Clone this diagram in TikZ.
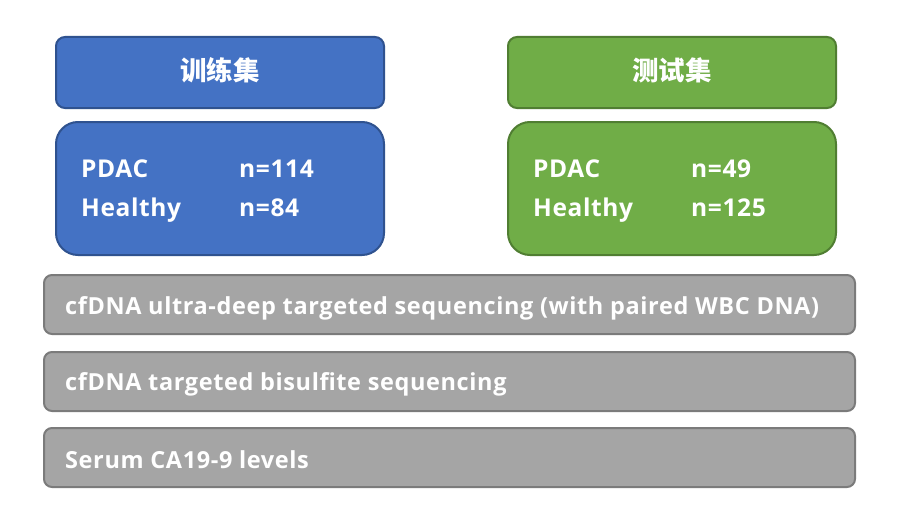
\documentclass[tikz,border=0pt]{standalone}
\usepackage{fontspec}
\setmainfont{Open Sans}[LetterSpace=2.6]
\newfontfamily\cjk{Noto Sans CJK SC}
\definecolor{bluefill}{HTML}{4472C4}
\definecolor{blueline}{HTML}{2F528F}
\definecolor{greenfill}{HTML}{70AD47}
\definecolor{greenline}{HTML}{507E32}
\definecolor{grayfill}{HTML}{A5A5A5}
\definecolor{grayline}{HTML}{7B7B7B}
\tikzset{
  box/.style={draw, line width=2pt, inner sep=0pt, anchor=north west},
  bluebox/.style={box, fill=bluefill, draw=blueline},
  greenbox/.style={box, fill=greenfill, draw=greenline},
  graybox/.style={box, fill=grayfill, draw=grayline, rounded corners=8pt},
  titletxt/.style={text=white, font=\cjk\bfseries\fontsize{26.5}{30}\selectfont},
  celltxt/.style={text=white, anchor=base west, inner sep=0pt, font=\bfseries\fontsize{24.5}{28}\selectfont},
  bartxt/.style={text=white, anchor=base west, inner sep=0pt, font=\bfseries\fontsize{23.5}{27}\selectfont},
}
\begin{document}
\begin{tikzpicture}[x=1pt,y=-1pt]
\useasboundingbox[fill=white] (0,0) rectangle (900,511);
% top title boxes
\node[bluebox, rounded corners=9pt, minimum width=328pt, minimum height=71pt] (trainT) at (55,36) {};
\node[greenbox, rounded corners=9pt, minimum width=328pt, minimum height=71pt] (testT) at (507,36) {};
\node[titletxt] (trainLbl) at ([yshift=2pt]trainT.center) {训练集};
\node[titletxt] (testLbl) at ([yshift=2pt]testT.center) {测试集};
% content boxes
\node[bluebox, rounded corners=22pt, minimum width=328pt, minimum height=133pt] (trainB) at (55,121) {};
\node[greenbox, rounded corners=22pt, minimum width=328pt, minimum height=133pt] (testB) at (507,121) {};
\node[celltxt] (t1) at (81,177) {PDAC};
\node[celltxt] (t2) at (239,177) {n=114};
\node[celltxt] (t3) at (81,216) {Healthy};
\node[celltxt] (t4) at (239,216) {n=84};
\node[celltxt] (s1) at (533,177) {PDAC};
\node[celltxt] (s2) at (691,177) {n=49};
\node[celltxt] (s3) at (533,216) {Healthy};
\node[celltxt] (s4) at (691,216) {n=125};
% gray bars
\node[graybox, minimum width=811pt, minimum height=59pt] (bar1) at (43,274) {};
\node[graybox, minimum width=811pt, minimum height=59pt] (bar2) at (43,351) {};
\node[graybox, minimum width=811pt, minimum height=59pt] (bar3) at (43,427) {};
\node[bartxt] (b1) at (65,314) {cfDNA ultra-deep targeted sequencing (with paired WBC DNA)};
\node[bartxt] (b2) at (65,390) {cfDNA targeted bisulfite sequencing};
\node[bartxt] (b3) at (65,468) {Serum CA19-9 levels};
\end{tikzpicture}
\end{document}
